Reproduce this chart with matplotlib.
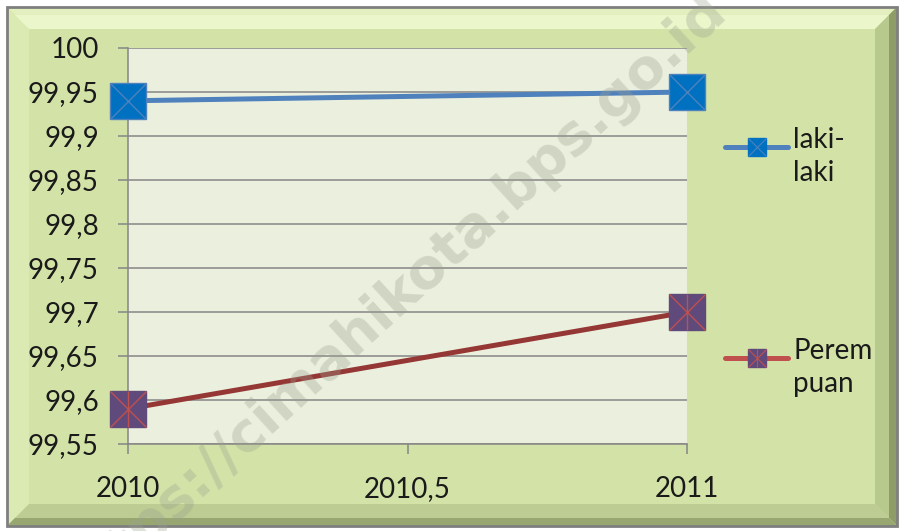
import matplotlib
matplotlib.use("Agg")
import matplotlib.pyplot as plt
from matplotlib.patches import Polygon, Rectangle
from matplotlib.lines import Line2D
from matplotlib.ticker import FuncFormatter, MultipleLocator

# data
years = [2010, 2011]
laki_laki = [99.94, 99.95]
perempuan = [99.59, 99.70]
series_labels = ["laki-\nlaki", "Perem\npuan"]

W, H = 902, 531
fig = plt.figure(figsize=(W / 100, H / 100), dpi=100)
fig.patch.set_facecolor("white")
plt.rcParams['font.family'] = ['Lato', 'DejaVu Sans']


def px(x, y):
    # pixel coords (from top-left) -> figure fraction
    return (x / W, 1 - y / H)


def poly(points, color, z=0):
    p = Polygon([px(*pt) for pt in points], closed=True, transform=fig.transFigure,
                facecolor=color, edgecolor="none", zorder=z)
    fig.add_artist(p)


# outer frame with bevel
L, T, R, B = 7, 7, 897, 526
bw = 22
poly([(L, T), (R, T), (R, B), (L, B)], "#d3e3a7", -10)
poly([(L, T), (R, T), (R - bw, T + bw), (L + bw, T + bw)], "#e3efbe", -9)
poly([(L, T + 8), (R - 8, T + 8), (R - bw, T + bw), (L + bw, T + bw)], "#ecf6cb", -9)
poly([(L, T), (L + bw, T + bw), (L + bw, B - bw), (L, B)], "#dbe9b3", -9)
poly([(R, T), (R, B), (R - bw, B - bw), (R - bw, T + bw)], "#b8c98e", -9)
poly([(R, T), (R, B), (R - 8, B - 8), (R - 8, T + 8)], "#8e9c68", -9)
poly([(L, B), (R, B), (R - bw, B - bw), (L + bw, B - bw)], "#bccc92", -9)
poly([(L, B), (R, B), (R - 8, B - 8), (L + 8, B - 8)], "#98a672", -9)
fig.add_artist(Rectangle(px(L, B), (R - L) / W, (B - T) / H, transform=fig.transFigure,
                         facecolor="none", edgecolor="#7f7f7f", lw=2, zorder=-8))

ax = fig.add_axes([128 / W, 1 - 444 / H, (687 - 128) / W, (444 - 48) / H])
ax.set_facecolor("#ebf0de")

ax.plot(years, laki_laki, color="#4f81bd", lw=3.6, solid_capstyle="round", zorder=3)
ax.plot(years, laki_laki, ls="none", marker="s", ms=26.5, mfc="#0070c0", mec="#4f81bd",
        mew=1, zorder=4, clip_on=False)
ax.plot(years, laki_laki, ls="none", marker="x", ms=26, mec="#4f81bd", mew=1, zorder=5,
        clip_on=False)

ax.plot(years, perempuan, color="#953735", lw=3.6, solid_capstyle="round", zorder=3)
ax.plot(years, perempuan, ls="none", marker="s", ms=26.5, mfc="#604a7b", mec="#604a7b",
        mew=1, zorder=4, clip_on=False)
ax.plot(years, perempuan, ls="none", marker="x", ms=26, mec="#c0504d", mew=1, zorder=5,
        clip_on=False)
ax.plot(years, perempuan, ls="none", marker="|", ms=26, mec="#c0504d", mew=1, zorder=5,
        clip_on=False)

ax.set_xlim(2010, 2011)
ax.set_ylim(99.55, 100)
ax.xaxis.set_major_locator(MultipleLocator(0.5))
ax.yaxis.set_major_locator(MultipleLocator(0.05))
comma = FuncFormatter(lambda v, p: ("%g" % round(v, 2)).replace(".", ","))
ax.xaxis.set_major_formatter(comma)
ax.yaxis.set_major_formatter(comma)
ax.grid(axis="y", color="#868686", lw=1.1)
ax.set_axisbelow(True)
for s in ["top", "right"]:
    ax.spines[s].set_visible(False)
for s in ["left", "bottom"]:
    ax.spines[s].set_color("#868686")
    ax.spines[s].set_linewidth(1.1)
ax.tick_params(axis="y", length=7, width=1.1, color="#868686", pad=14, labelsize=20,
               labelcolor="#1a1a1a")
ax.tick_params(axis="x", length=7, width=1.1, color="#868686", pad=16, labelsize=20,
               labelcolor="#1a1a1a")

# legend keys drawn by hand to keep the handle on the first text line
legend_rows = [
    (147, "#4f81bd", "#0070c0", "#4f81bd", ["x"]),
    (358, "#c0504d", "#604a7b", "#c0504d", ["x", "|"]),
]
for (y, lc, fc, xc, marks), lab in zip(legend_rows, series_labels):
    x0, y0 = px(725, y)
    x1, _ = px(788, y)
    xm = (x0 + x1) / 2
    fig.add_artist(Line2D([x0, x1], [y0, y0], color=lc, lw=3.6, solid_capstyle="round",
                          transform=fig.transFigure))
    fig.add_artist(Line2D([xm], [y0], ls="none", marker="s", ms=13.5, mfc=fc, mec=fc,
                          transform=fig.transFigure))
    for m in marks:
        fig.add_artist(Line2D([xm], [y0], ls="none", marker=m, ms=13, mec=xc, mew=0.8,
                              transform=fig.transFigure))
    fig.text(px(793, 0)[0], px(0, y - 20)[1], lab, fontsize=20, color="#1a1a1a", va="top",
             ha="left", linespacing=1.35, transform=fig.transFigure)

# watermark
fig.text(px(392, 0)[0], px(0, 300)[1], "https://cimahikota.bps.go.id", fontsize=40,
         fontweight="bold", color="#9aa08f", alpha=0.33, rotation=42.4,
         ha="center", va="center", zorder=20, family="DejaVu Sans")

fig.savefig("out.png", dpi=100)
